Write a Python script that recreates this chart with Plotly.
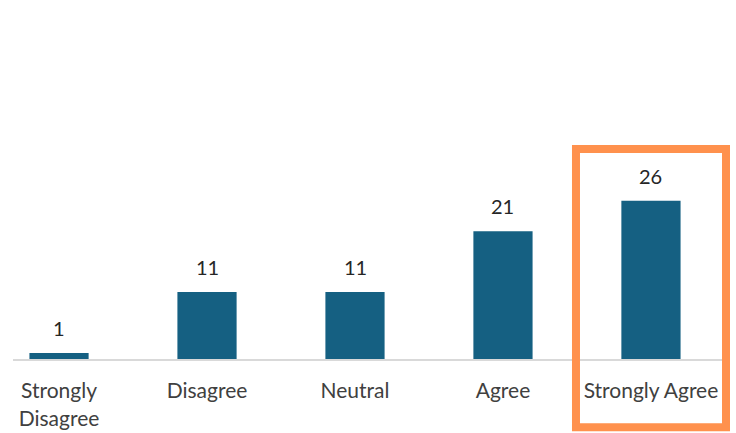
import plotly.graph_objects as go

categories = ["Strongly<br>Disagree", "Disagree", "Neutral", "Agree", "Strongly Agree"]
counts = [1, 11, 11, 21, 26]

positions = list(range(len(categories)))
BAR_COLOR = "#156082"
HILITE = "#FF914D"
FONT = "Lato, 'Open Sans', sans-serif"

fig = go.Figure(go.Bar(
    x=positions, y=counts, width=0.4,
    marker=dict(color=BAR_COLOR, line=dict(width=0)),
    hoverinfo="skip",
))

for xi, v in zip(positions, counts):
    fig.add_annotation(x=xi, y=v, text=str(v), showarrow=False,
                       yanchor="middle", yshift=25,
                       font=dict(family=FONT, size=20, color="#262626"))

fig.add_shape(type="rect", xref="paper", yref="paper",
              x0=0.7896, x1=1.0, y0=-0.19, y1=0.585,
              line=dict(color=HILITE, width=8), fillcolor="rgba(0,0,0,0)")

fig.update_layout(
    width=736, height=433,
    margin=dict(l=13, r=10, t=0, b=74),
    paper_bgcolor="white", plot_bgcolor="white",
    showlegend=False,
    xaxis=dict(range=[-0.311, 4.507], tickvals=positions, ticktext=categories,
               showgrid=False, zeroline=False, showline=True,
               linecolor="#D9D9D9", linewidth=2, ticks="",
               ticklabelstandoff=12,
               tickfont=dict(family=FONT, size=21, color="#404040")),
    yaxis=dict(range=[0, 59.0], visible=False, showgrid=False, zeroline=False),
)

fig.write_html("out.html", config={"displayModeBar": False},
               post_script="document.body.style.margin='0px';")
